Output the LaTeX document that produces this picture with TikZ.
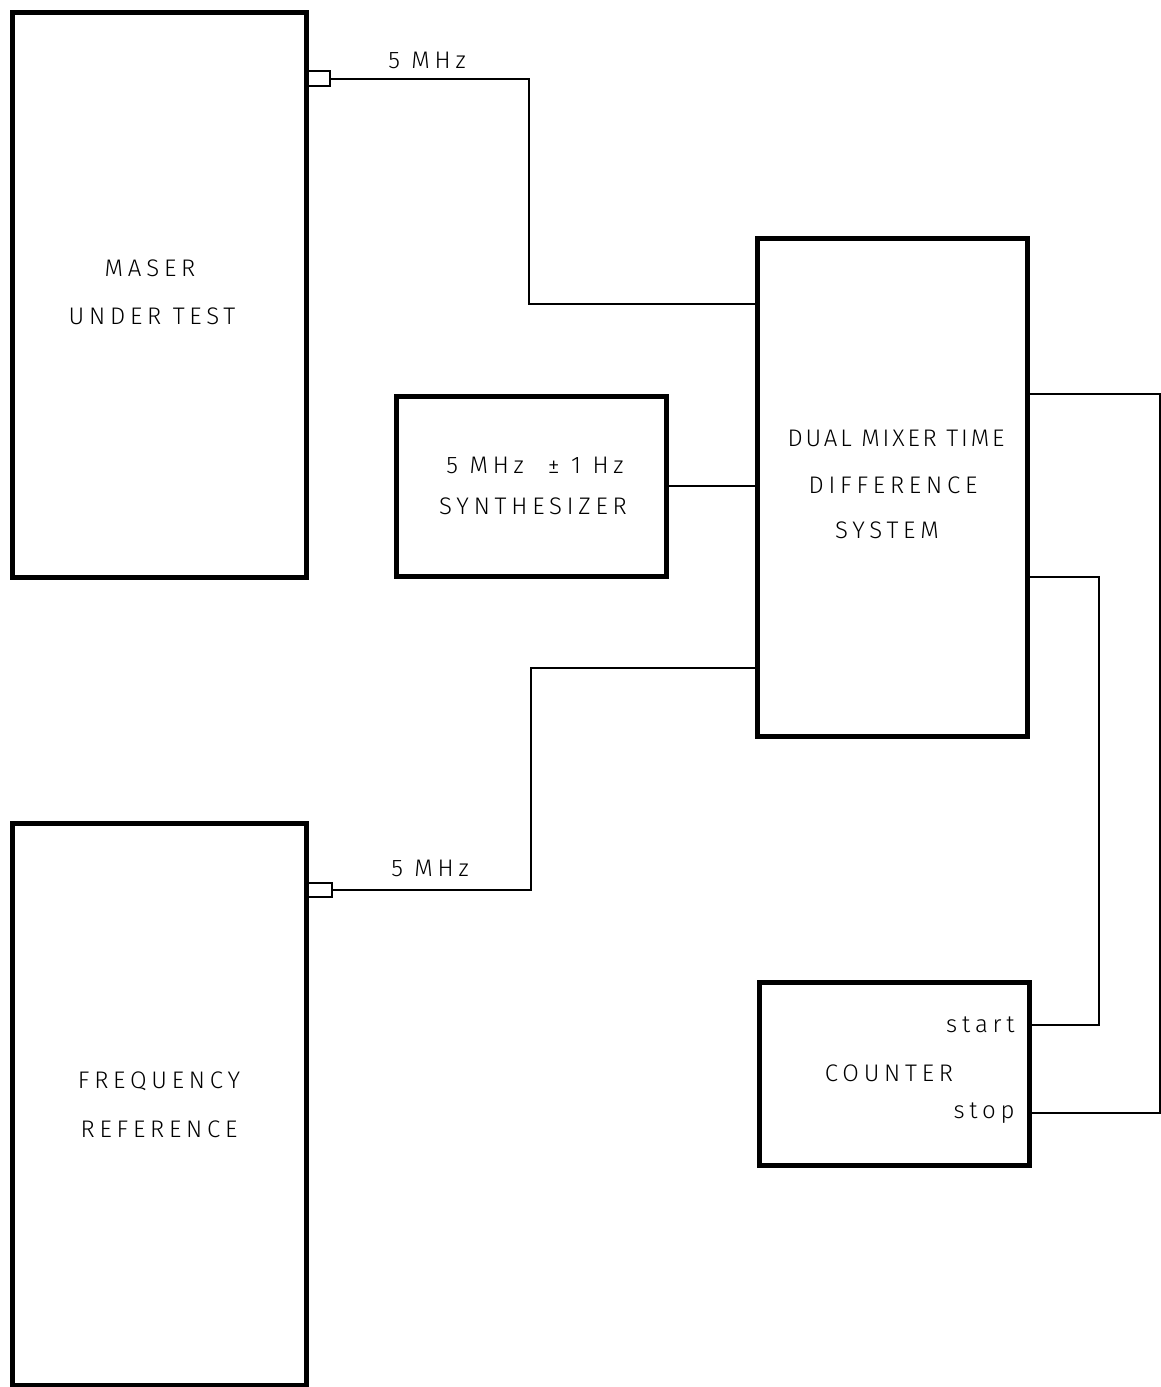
\documentclass[tikz,border=0pt]{standalone}
\usepackage{fontspec}
\setmainfont{Fira Sans}[UprightFont=* Light, LetterSpace=20]
\begin{document}
\begin{tikzpicture}[x=0.5pt,y=-0.5pt,
  block/.style={draw, line width=2.5pt, rectangle, inner sep=0pt},
  port/.style={draw, line width=1pt, rectangle, inner sep=0pt},
  wire/.style={line width=1pt},
  lbl/.style={inner sep=0pt, font=\fontsize{12}{14}\selectfont, align=center}]
\useasboundingbox (0,0) rectangle (1161,1387);
% blocks
\node[block, minimum width=147pt, minimum height=282.5pt] (maser) at (159,294.5) {};
\node[block, minimum width=147pt, minimum height=281pt] (freq) at (159,1104) {};
\node[block, minimum width=135pt, minimum height=90pt] (synth) at (531,486) {};
\node[block, minimum width=135pt, minimum height=249pt] (dmtd) at (892,487) {};
\node[block, minimum width=135pt, minimum height=91.5pt] (counter) at (894,1073.5) {};
% ports
\node[port, minimum width=12pt, minimum height=7.5pt] (mconn) at (318,78.5) {};
\node[port, minimum width=13pt, minimum height=7pt] (fconn) at (319,890) {};
% texts
\node[lbl] (t1) at (150,268) {MASER};
\node[lbl] (t2) at (152,316) {UNDER TEST};
\node[lbl] (t3) at (159,1081) {FREQUENCY};
\node[lbl] (t4) at (159,1129) {REFERENCE};
\node[lbl] (t5) at (535,465) {5 MHz\hspace{12pt}± 1 Hz};
\node[lbl] (t6) at (533,506) {SYNTHESIZER};
\node[lbl] (t7) at (896,438) {\addfontfeature{LetterSpace=12}DUAL MIXER TIME};
\node[lbl] (t8) at (893,485) {DIFFERENCE};
\node[lbl] (t9) at (887,530) {SYSTEM};
\node[lbl] (t10) at (889,1073) {COUNTER};
\node[lbl, anchor=east] (start) at (1015,1025) {start};
\node[lbl, anchor=east] (stop) at (1015,1113) {stop};
\node[lbl] (f1) at (427,60) {5 MHz};
\node[lbl] (f2) at (430,868) {5 MHz};
% connectors
\coordinate (j1) at (529,304);
\coordinate (j2) at (531,668);
\coordinate (j3) at (1160,394);
\coordinate (j4) at (1099,577);
\draw[wire] (mconn.east) -| (j1) -- (j1 -| dmtd.west);
\draw[wire] (synth.east) -- (synth.east -| dmtd.west);
\draw[wire] (fconn.east) -| (j2) -- (j2 -| dmtd.west);
\draw[wire] (j3 -| dmtd.east) -- (j3) |- (stop -| counter.east);
\draw[wire] (j4 -| dmtd.east) -- (j4) |- (start -| counter.east);
\end{tikzpicture}
\end{document}
